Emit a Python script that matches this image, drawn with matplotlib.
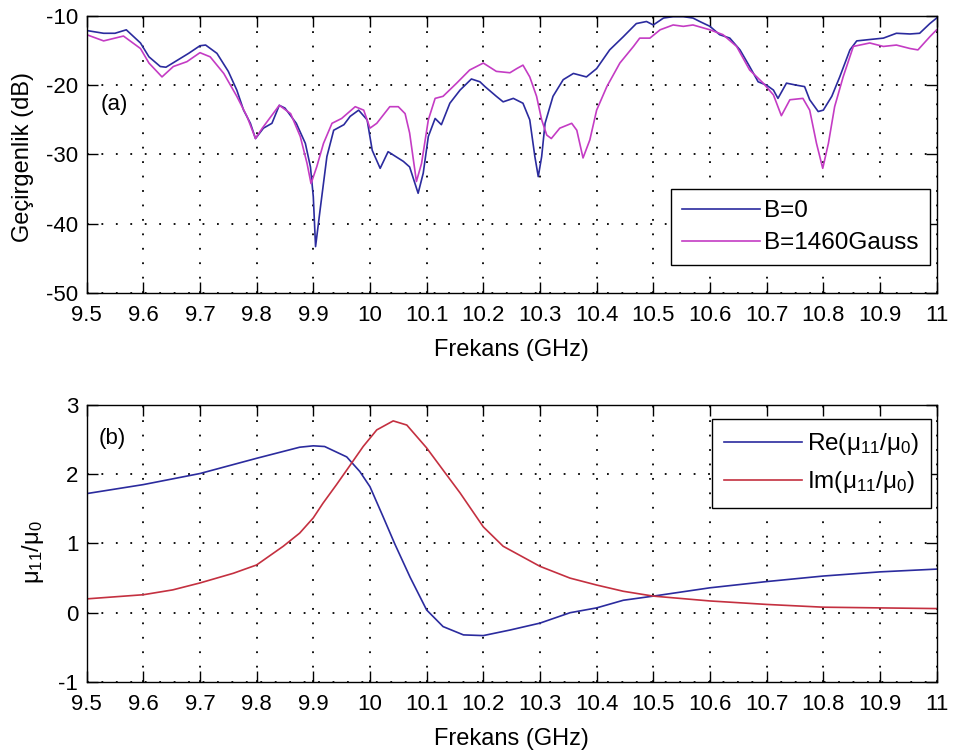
import numpy as np
import matplotlib
matplotlib.use("Agg")
import matplotlib.pyplot as plt

plt.rcParams['font.family'] = ['Liberation Sans', 'DejaVu Sans']
plt.rcParams['mathtext.fontset'] = 'custom'
plt.rcParams['mathtext.rm'] = 'Liberation Sans'
plt.rcParams['mathtext.it'] = 'Liberation Sans'
plt.rcParams['axes.unicode_minus'] = False

# (a) Geçirgenlik, B=0
f_b0 = [9.50, 9.53, 9.55, 9.57, 9.595, 9.61, 9.63, 9.64, 9.66, 9.68, 9.70, 9.71,
        9.73, 9.75, 9.765, 9.777, 9.789, 9.798, 9.812, 9.827, 9.84, 9.85, 9.87,
        9.886, 9.895, 9.90, 9.904, 9.912, 9.924, 9.936, 9.954, 9.965, 9.98, 9.995,
        10.004, 10.018, 10.032, 10.059, 10.07, 10.085, 10.094, 10.103, 10.115,
        10.126, 10.141, 10.159, 10.179, 10.194, 10.203, 10.223, 10.235, 10.253,
        10.27, 10.282, 10.291, 10.297, 10.303, 10.309, 10.323, 10.341, 10.359,
        10.382, 10.40, 10.423, 10.447, 10.47, 10.488, 10.50, 10.518, 10.535,
        10.553, 10.57, 10.582, 10.60, 10.617, 10.635, 10.653, 10.67, 10.685,
        10.70, 10.712, 10.72, 10.735, 10.753, 10.767, 10.776, 10.791, 10.80,
        10.815, 10.829, 10.847, 10.859, 10.882, 10.906, 10.929, 10.953, 10.97,
        10.988, 11.0]
db_b0 = [-12.1, -12.5, -12.5, -12.0, -13.9, -15.9, -17.3, -17.4, -16.4, -15.4,
         -14.3, -14.2, -15.4, -18.0, -20.7, -23.6, -25.5, -27.7, -26.2, -25.5,
         -22.9, -23.3, -25.5, -28.4, -31.8, -36.1, -43.3, -38.0, -30.3, -26.5,
         -25.7, -24.5, -23.6, -25.0, -29.4, -32.0, -29.6, -31.0, -31.8, -35.6,
         -32.7, -27.4, -24.8, -25.7, -22.6, -20.7, -19.1, -19.5, -20.2, -21.6,
         -22.4, -21.9, -22.6, -25.0, -30.3, -33.2, -30.3, -25.5, -21.6, -19.2,
         -18.3, -18.8, -17.6, -14.9, -13.0, -11.1, -10.8, -11.3, -10.3, -10.1,
         -10.1, -10.3, -10.8, -11.5, -12.7, -13.2, -14.9, -17.3, -19.5, -20.0,
         -20.7, -21.9, -19.7, -20.0, -20.2, -22.1, -23.8, -23.6, -21.6, -18.8,
         -14.9, -13.6, -13.4, -13.2, -12.5, -12.6, -12.5, -11.1, -10.3]

# (a) Geçirgenlik, B=1460 Gauss
f_b1 = [9.50, 9.53, 9.565, 9.595, 9.61, 9.633, 9.653, 9.677, 9.70, 9.718, 9.742,
        9.765, 9.783, 9.798, 9.81, 9.84, 9.86, 9.877, 9.889, 9.896, 9.906, 9.918,
        9.933, 9.95, 9.974, 9.989, 10.0, 10.012, 10.035, 10.05, 10.062, 10.07,
        10.082, 10.091, 10.103, 10.115, 10.129, 10.153, 10.176, 10.20, 10.223,
        10.247, 10.259, 10.27, 10.282, 10.294, 10.303, 10.312, 10.32, 10.335,
        10.356, 10.365, 10.376, 10.388, 10.40, 10.418, 10.441, 10.465, 10.476,
        10.494, 10.512, 10.535, 10.553, 10.57, 10.60, 10.623, 10.647, 10.67,
        10.694, 10.712, 10.726, 10.741, 10.764, 10.776, 10.788, 10.799, 10.809,
        10.82, 10.835, 10.853, 10.882, 10.906, 10.929, 10.953, 10.967, 10.988,
        11.0]
db_b1 = [-12.7, -13.6, -12.9, -14.7, -16.8, -18.8, -17.3, -16.6, -15.3, -15.9,
         -18.3, -21.6, -24.5, -27.7, -26.2, -22.9, -24.1, -27.4, -31.3, -34.2,
         -31.8, -28.4, -25.5, -24.8, -23.1, -23.6, -26.2, -25.5, -23.1, -23.1,
         -24.1, -26.9, -33.9, -31.3, -25.0, -21.9, -21.6, -19.7, -17.8, -16.8,
         -18.0, -18.2, -17.6, -17.1, -18.8, -21.6, -25.0, -27.2, -27.7, -26.2,
         -25.5, -26.5, -30.5, -27.9, -23.6, -20.2, -16.8, -14.4, -13.2, -13.2,
         -12.0, -11.3, -11.5, -11.3, -12.0, -12.7, -14.4, -17.8, -19.7, -21.4,
         -24.4, -22.1, -21.9, -23.6, -28.4, -32.0, -28.4, -23.1, -18.8, -14.4,
         -13.9, -14.4, -14.2, -14.7, -14.9, -13.0, -12.0]

# (b) mu11/mu0
f_re = [9.5, 9.6, 9.7, 9.8, 9.876, 9.9, 9.92, 9.959, 9.982, 10.0, 10.023, 10.044,
        10.071, 10.1, 10.129, 10.165, 10.2, 10.247, 10.3, 10.353, 10.4, 10.447,
        10.5, 10.6, 10.7, 10.8, 10.9, 11.0]
mu_re = [1.72, 1.85, 2.01, 2.23, 2.39, 2.41, 2.40, 2.25, 2.04, 1.82, 1.39, 0.99,
         0.51, 0.04, -0.20, -0.32, -0.33, -0.25, -0.15, 0.00, 0.07, 0.18, 0.24,
         0.36, 0.45, 0.53, 0.59, 0.63]
f_im = [9.5, 9.6, 9.652, 9.7, 9.759, 9.8, 9.847, 9.876, 9.9, 9.917, 9.941, 9.965,
        9.988, 10.012, 10.041, 10.065, 10.1, 10.129, 10.159, 10.2, 10.235, 10.3,
        10.353, 10.4, 10.447, 10.5, 10.6, 10.7, 10.8, 10.9, 11.0]
mu_im = [0.20, 0.26, 0.33, 0.43, 0.57, 0.69, 0.96, 1.15, 1.37, 1.58, 1.85, 2.13,
         2.40, 2.64, 2.77, 2.71, 2.38, 2.06, 1.73, 1.24, 0.96, 0.67, 0.50, 0.40,
         0.31, 0.24, 0.17, 0.12, 0.08, 0.07, 0.06]

xticks = np.round(np.arange(9.5, 11.01, 0.1), 1)
xticklabels = ['9.5', '9.6', '9.7', '9.8', '9.9', '10', '10.1', '10.2', '10.3',
               '10.4', '10.5', '10.6', '10.7', '10.8', '10.9', '11']

fs_tick = 16
fs_lab = 17
fs_leg = 17.5

fig = plt.figure(figsize=(9.54, 7.53), dpi=100)
ax1 = fig.add_axes([0.0908, 0.6109, 0.8910, 0.3679])
ax2 = fig.add_axes([0.0908, 0.0943, 0.8910, 0.3679])

ax1.plot(f_b0, db_b0, color='#2b2b9e', lw=1.2, label='B=0')
ax1.plot(f_b1, db_b1, color='#c43cc4', lw=1.2, label='B=1460Gauss')
ax1.set_ylim(-50, -10)
ax1.set_yticks([-50, -40, -30, -20, -10])
ax1.set_ylabel('Geçirgenlik (dB)', fontsize=fs_lab)
ax1.yaxis.set_label_coords(-0.062, 0.49)
ax1.text(0.016, 0.68, '(a)', transform=ax1.transAxes, fontsize=fs_tick, va='center')
ax1.legend(loc='lower right', bbox_to_anchor=(0.992, 0.101), borderaxespad=0,
           fontsize=fs_leg, handlelength=3.2, fancybox=False, edgecolor='black',
           framealpha=1, borderpad=0.45, labelspacing=0.4, handletextpad=0.2)

ax2.plot(f_re, mu_re, color='#2b2b9e', lw=1.2, label=r'Re$\mathregular{(μ_{11}/μ_0)}$')
ax2.plot(f_im, mu_im, color='#c43040', lw=1.2, label=r'Im$\mathregular{(μ_{11}/μ_0)}$')
ax2.set_ylim(-1, 3)
ax2.set_yticks([-1, 0, 1, 2, 3])
ax2.set_ylabel(r'$\mathregular{μ_{11}/μ_0}$', fontsize=fs_lab)
ax2.yaxis.set_label_coords(-0.048, 0.47)
ax2.text(0.014, 0.88, '(b)', transform=ax2.transAxes, fontsize=fs_tick, va='center')
ax2.legend(loc='upper right', bbox_to_anchor=(0.9934, 0.949), borderaxespad=0,
           fontsize=fs_leg, handlelength=3.2, fancybox=False, edgecolor='black',
           framealpha=1, borderpad=0.5, labelspacing=0.5, handletextpad=0.2)

for ax in (ax1, ax2):
    ax.set_xlim(9.5, 11)
    ax.set_xticks(xticks)
    ax.set_xticklabels(xticklabels)
    ax.set_xlabel('Frekans (GHz)', fontsize=fs_lab)
    ax.xaxis.set_label_coords(0.5, -0.165)
    ax.grid(True, color='black', linestyle=(0, (1, 7)), linewidth=1.3)
    ax.tick_params(direction='in', top=True, right=True, length=8, width=1,
                   labelsize=fs_tick)
    ax.tick_params(axis='x', pad=9)
    ax.tick_params(axis='y', pad=6)
    for s in ax.spines.values():
        s.set_linewidth(1.0)

fig.savefig('out.png', dpi=100)
